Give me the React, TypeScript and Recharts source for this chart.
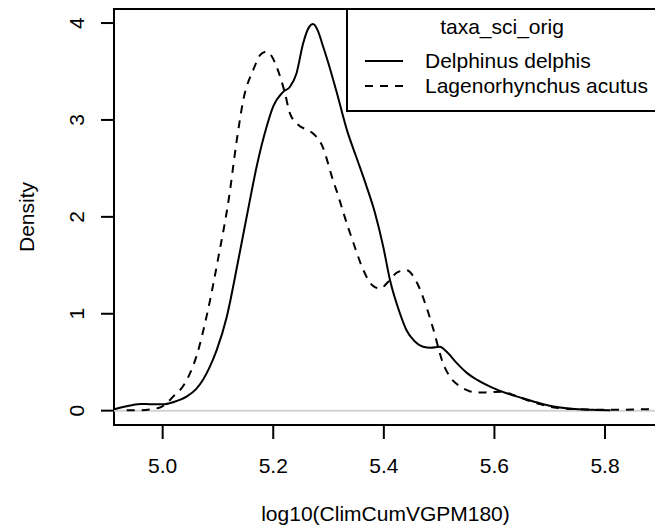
import React from 'react';
import {
  LineChart,
  Line,
  XAxis,
  YAxis,
  ReferenceLine,
  ReferenceArea,
  Label,
} from 'recharts';

// density curves
const DELPHINUS_X = [
  4.912, 4.93, 4.96, 4.98, 5.0, 5.02, 5.043, 5.06, 5.073, 5.085, 5.098, 5.116, 5.137, 5.157,
  5.17, 5.188, 5.2, 5.218, 5.23, 5.242, 5.254, 5.265, 5.272, 5.28, 5.29, 5.3, 5.315, 5.333,
  5.35, 5.369, 5.384, 5.399, 5.411, 5.429, 5.441, 5.455, 5.471, 5.485, 5.501, 5.515, 5.532,
  5.55, 5.568, 5.595, 5.622, 5.65, 5.682, 5.71, 5.731, 5.76, 5.785, 5.81,
];
const DELPHINUS_Y = [
  0.015, 0.04, 0.07, 0.065, 0.065, 0.09, 0.145, 0.22, 0.32, 0.45, 0.63, 0.97, 1.56, 2.15,
  2.52, 2.93, 3.14, 3.29, 3.34, 3.48, 3.79, 3.96, 3.99, 3.93, 3.76, 3.58, 3.28, 2.9,
  2.62, 2.31, 2.04, 1.69, 1.35, 1.005, 0.83, 0.72, 0.66, 0.65, 0.66, 0.6, 0.49,
  0.39, 0.32, 0.24, 0.18, 0.13, 0.076, 0.04, 0.025, 0.012, 0.007, 0.003,
];

const LAGEN_X = [
  4.935, 4.96, 4.98, 4.998, 5.019, 5.04, 5.061, 5.082, 5.101, 5.12, 5.134, 5.146, 5.164,
  5.178, 5.188, 5.197, 5.206, 5.221, 5.23, 5.245, 5.26, 5.272, 5.288, 5.308, 5.318, 5.327,
  5.345, 5.363, 5.378, 5.393, 5.408, 5.425, 5.441, 5.459, 5.477, 5.489, 5.507, 5.522, 5.538,
  5.555, 5.568, 5.59, 5.616, 5.635, 5.658, 5.68, 5.706, 5.73, 5.755, 5.79, 5.83, 5.87, 5.9,
];
const LAGEN_Y = [
  0.005, 0.005, 0.015, 0.04, 0.145, 0.28, 0.56, 1.04, 1.59, 2.2, 2.79, 3.21, 3.52,
  3.68, 3.705, 3.66, 3.55, 3.28, 3.07, 2.95, 2.9, 2.86, 2.74, 2.38, 2.21, 2.04,
  1.73, 1.45, 1.3, 1.26, 1.33, 1.43, 1.45, 1.33, 1.07, 0.85, 0.49, 0.33, 0.25,
  0.2, 0.186, 0.19, 0.196, 0.16, 0.11, 0.07, 0.035, 0.02, 0.014, 0.01, 0.01, 0.015, 0.015,
];

const X_TICKS = [5.0, 5.2, 5.4, 5.6, 5.8];
const Y_TICKS = [0, 1, 2, 3, 4];
const SERIES_NAMES = ['Delphinus delphis', 'Lagenorhynchus acutus'];
const LEGEND_TITLE = 'taxa_sci_orig';

const X_MIN = 4.912;
const X_MAX = 5.894;
const Y_MIN = -0.148;
const Y_MAX = 4.145;

const FONT = '"Liberation Sans", Arial, Helvetica, sans-serif';

const delphinusData = DELPHINUS_X.map((x, i) => ({ x, y: DELPHINUS_Y[i] }));
const lagenData = LAGEN_X.map((x, i) => ({ x, y: LAGEN_Y[i] }));

const XTick = (props: any) => (
  <text x={props.x} y={473} textAnchor="middle" fontSize={21} fill="#000">
    {Number(props.payload.value).toFixed(1)}
  </text>
);

const YTick = (props: any) => (
  <text
    x={84}
    y={props.y}
    transform={`rotate(-90, 84, ${props.y})`}
    textAnchor="middle"
    fontSize={21}
    fill="#000"
  >
    {props.payload.value}
  </text>
);

function LegendBox() {
  return (
    <svg
      width={330}
      height={104}
      style={{ position: 'absolute', left: 346, top: 8, fontFamily: FONT }}
    >
      <rect x={1} y={1} width={340} height={102} fill="#fff" stroke="#000" strokeWidth={2} />
      <text x={156} y={26} textAnchor="middle" fontSize={21}>{LEGEND_TITLE}</text>
      <line x1={19} x2={57} y1={53} y2={53} stroke="#000" strokeWidth={2} />
      <text x={79} y={60} fontSize={21}>{SERIES_NAMES[0]}</text>
      <line x1={19} x2={57} y1={78} y2={78} stroke="#000" strokeWidth={2} strokeDasharray="8 7" />
      <text x={79} y={85} fontSize={21}>{SERIES_NAMES[1]}</text>
    </svg>
  );
}

export default function App() {
  return (
    <div
      style={{
        position: 'absolute',
        left: 0,
        top: 0,
        width: 655,
        height: 529,
        overflow: 'hidden',
        background: '#fff',
        fontFamily: FONT,
      }}
    >
      <LineChart width={680} height={529} margin={{ top: 9, right: 23, bottom: 0, left: 0 }}>
        <XAxis
          dataKey="x"
          type="number"
          domain={[X_MIN, X_MAX]}
          ticks={X_TICKS}
          allowDataOverflow
          height={104}
          axisLine={false}
          tickSize={14}
          tickLine={{ stroke: '#000', strokeWidth: 2 }}
          tick={<XTick />}
        >
          <Label
            content={() => (
              <text x={385.5} y={521} textAnchor="middle" fontSize={21} fill="#000">
                log10(ClimCumVGPM180)
              </text>
            )}
          />
        </XAxis>
        <YAxis
          type="number"
          domain={[Y_MIN, Y_MAX]}
          ticks={Y_TICKS}
          allowDataOverflow
          width={114}
          axisLine={false}
          tickSize={13}
          tickLine={{ stroke: '#000', strokeWidth: 2 }}
          tick={<YTick />}
        >
          <Label
            content={() => (
              <text
                x={34}
                y={217}
                transform="rotate(-90, 34, 217)"
                textAnchor="middle"
                fontSize={21}
                fill="#000"
              >
                Density
              </text>
            )}
          />
        </YAxis>
        <ReferenceLine y={0} stroke="#d3d3d3" strokeWidth={2} />
        <Line
          data={delphinusData}
          dataKey="y"
          type="monotone"
          stroke="#000"
          strokeWidth={2}
          dot={false}
          activeDot={false}
          isAnimationActive={false}
          name={SERIES_NAMES[0]}
        />
        <Line
          data={lagenData}
          dataKey="y"
          type="monotone"
          stroke="#000"
          strokeWidth={2}
          strokeDasharray="8 7"
          dot={false}
          activeDot={false}
          isAnimationActive={false}
          name={SERIES_NAMES[1]}
        />
        <ReferenceArea
          x1={X_MIN}
          x2={X_MAX}
          y1={Y_MIN}
          y2={Y_MAX}
          fill="none"
          stroke="#000"
          strokeWidth={2}
          ifOverflow="visible"
        />
      </LineChart>
      <LegendBox />
    </div>
  );
}
